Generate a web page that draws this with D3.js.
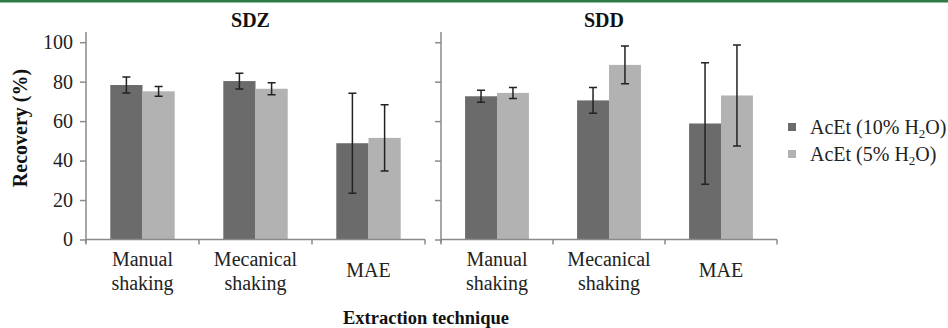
<!DOCTYPE html>
<html>
<head>
<meta charset="utf-8">
<script src="https://cdn.jsdelivr.net/npm/d3@7"></script>
</head>
<body style="margin:0; background:#fff">
<script>
// data
var categories = ["Manual shaking", "Mecanical shaking", "MAE"];
var series = ["AcEt (10% H2O)", "AcEt (5% H2O)"];
var panels = ["SDZ", "SDD"];
var sdzMeans = [[78.3, 75.1], [80.3, 76.4], [48.8, 51.5]];
var sdzErrors = [[4.0, 2.5], [4.0, 3.0], [25.3, 16.8]];
var sddMeans = [[72.6, 74.3], [70.5, 88.5], [58.8, 73.0]];
var sddErrors = [[3.0, 2.8], [6.5, 9.6], [30.8, 25.6]];
var yTicks = [0, 20, 40, 60, 80, 100];

var colors = ["#6b6b6b", "#b2b2b2"];
var serif = "'Liberation Serif'";

var svg = d3.select("body").append("svg").attr("width", 948).attr("height", 328)
  .style("font-family", serif);

// green rule across the top
svg.append("rect").attr("x", 0).attr("y", 0).attr("width", 948).attr("height", 2.5)
  .attr("fill", "#2f7a47");

var y = d3.scaleLinear().domain([0, 100]).range([239.5, 42.2]);

var panelData = [
  { name: panels[0], means: sdzMeans, errs: sdzErrors, x0: 86, x1: 425, labels: true },
  { name: panels[1], means: sddMeans, errs: sddErrors, x0: 441, x1: 777, labels: false }
];

function label(sel, size, bold) {
  return sel.style("font-family", serif).style("font-size", size + "px")
    .style("font-weight", bold ? "bold" : "normal");
}

panelData.forEach(function(p) {
  var g = svg.append("g");
  var x = d3.scaleBand().domain(categories).range([p.x0, p.x1]).padding(0);
  var bw = x.bandwidth();
  var xs = d3.scaleBand().domain(series).range([bw * 0.215, bw * 0.785]);

  // bars with error bars
  categories.forEach(function(c, i) {
    series.forEach(function(s, j) {
      var v = p.means[i][j], e = p.errs[i][j];
      var bx = x(c) + xs(s);
      g.append("rect")
        .attr("x", bx).attr("y", y(v))
        .attr("width", xs.bandwidth()).attr("height", y(0) - y(v))
        .attr("fill", colors[j]);
      var cx = bx + xs.bandwidth() / 2;
      g.append("path")
        .attr("d", "M" + cx + "," + y(v + e) + "V" + y(v - e) +
          "M" + (cx - 4) + "," + y(v + e) + "H" + (cx + 4) +
          "M" + (cx - 4) + "," + y(v - e) + "H" + (cx + 4))
        .attr("stroke", "#222").attr("stroke-width", 1.5).attr("fill", "none");
    });
  });

  // y axis
  var ya = g.append("g").attr("transform", "translate(" + p.x0 + ",0)")
    .call(d3.axisLeft(y).tickValues(yTicks).tickSize(6).tickSizeOuter(0)
      .tickFormat(p.labels ? d3.format("d") : ""));
  ya.attr("font-family", null).attr("font-size", null);
  ya.select(".domain").remove();
  ya.selectAll("line").attr("stroke", "#8a8a8a").attr("stroke-width", 1.5);
  label(ya.selectAll("text").attr("fill", "#222").attr("dx", -4), 20);
  g.append("line").attr("x1", p.x0).attr("x2", p.x0).attr("y1", 32).attr("y2", 243)
    .attr("stroke", "#8a8a8a").attr("stroke-width", 1.5);

  // x axis
  g.append("line").attr("x1", p.x0).attr("x2", p.x1).attr("y1", y(0)).attr("y2", y(0))
    .attr("stroke", "#8a8a8a").attr("stroke-width", 1.5);
  categories.concat([null]).forEach(function(c) {
    var tx = c ? x(c) : p.x1;
    g.append("line").attr("x1", tx).attr("x2", tx).attr("y1", y(0)).attr("y2", y(0) + 5)
      .attr("stroke", "#8a8a8a").attr("stroke-width", 1.5);
  });

  categories.forEach(function(c) {
    var words = c.split(" ");
    var cx = x(c) + bw / 2;
    if (words.length === 1) {
      label(g.append("text"), 20).attr("text-anchor", "middle").attr("fill", "#222")
        .attr("x", cx).attr("y", 277).text(c);
    } else {
      words.forEach(function(w, k) {
        label(g.append("text"), 20).attr("text-anchor", "middle").attr("fill", "#222")
          .attr("x", cx).attr("y", 266 + k * 24).text(w);
      });
    }
  });

  // panel title
  label(g.append("text"), 20, true).attr("x", (p.x0 + p.x1) / 2 - 5).attr("y", 27)
    .attr("text-anchor", "middle").attr("fill", "#111")
    .text(p.name);
});

// axis titles
label(svg.append("text"), 20, true).attr("transform", "translate(27,128) rotate(-90)")
  .attr("text-anchor", "middle").attr("fill", "#111")
  .text("Recovery (%)");
label(svg.append("text"), 18.5, true).attr("x", 426).attr("y", 324)
  .attr("text-anchor", "middle").attr("fill", "#111")
  .text("Extraction technique");

// legend
var legend = svg.append("g");
series.forEach(function(s, j) {
  var ly = 123 + j * 27;
  legend.append("rect").attr("x", 788).attr("y", ly).attr("width", 8).attr("height", 8)
    .attr("fill", colors[j]);
  var parts = s.split("H2O");
  var t = label(legend.append("text"), 20).attr("x", 810).attr("y", ly + 11).attr("fill", "#222");
  t.append("tspan").text(parts[0] + "H");
  t.append("tspan").style("font-size", "13px").attr("dy", 4).text("2");
  t.append("tspan").attr("dy", -4).text("O" + parts[1]);
});
</script>
</body>
</html>
